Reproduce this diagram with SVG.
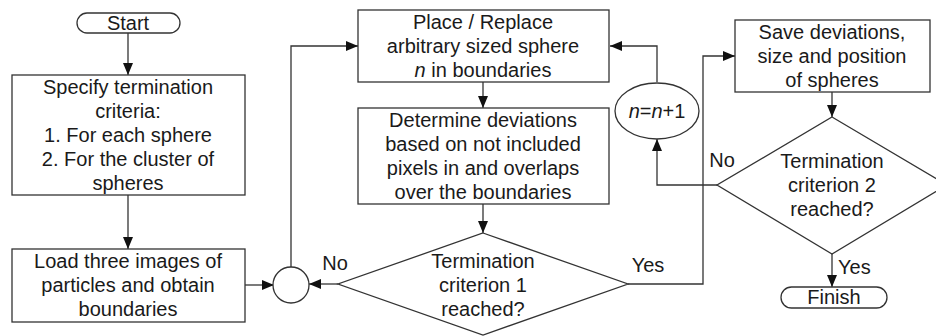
<svg xmlns="http://www.w3.org/2000/svg" width="936" height="336" viewBox="0 0 936 336">
<style>
.s{fill:#fff;stroke:#333;stroke-width:1.3}
.c{fill:none;stroke:#333;stroke-width:1.3}
text{font-family:"Liberation Sans",Arial,sans-serif;font-size:20px;fill:#1a1a1a;text-anchor:middle}
.l{text-anchor:start}
</style>
<defs>
<marker id="a" viewBox="0 0 12 10" refX="12" refY="5" markerWidth="12" markerHeight="10" markerUnits="userSpaceOnUse" orient="auto">
<path d="M0,0L12,5L0,10z" fill="#111"/>
</marker>
</defs>
<rect width="936" height="336" fill="#fff"/>
<g id="connectors" class="c" marker-end="url(#a)">
<path d="M128,33V75"/>
<path d="M128,195V249"/>
<path d="M245,285H274"/>
<path d="M291,267V46H358"/>
<path d="M483,82V108"/>
<path d="M483,204V233"/>
<path d="M338,284H309"/>
<path d="M628,284H703V56H735"/>
<path d="M832,92V117"/>
<path d="M717,185H657V139"/>
<path d="M657,82V46H610"/>
<path d="M832,254V287"/>
</g>
<g id="labels">
<text x="335" y="270">No</text>
<text x="648" y="272">Yes</text>
<text x="722" y="167">No</text>
<text class="l" x="838" y="274">Yes</text>
</g>
<g id="start">
<rect class="s" x="77" y="13" width="103" height="20" rx="10"/>
<text x="128" y="30">Start</text>
</g>
<g id="specify">
<rect class="s" x="12" y="75" width="233" height="120"/>
<text x="128" y="94">Specify termination</text>
<text x="128" y="118">criteria:</text>
<text x="128" y="142">1. For each sphere</text>
<text x="128" y="166">2. For the cluster of</text>
<text x="128" y="190">spheres</text>
</g>
<g id="load">
<rect class="s" x="12" y="249" width="233" height="73"/>
<text x="128" y="268">Load three images of</text>
<text x="128" y="292">particles and obtain</text>
<text x="128" y="316">boundaries</text>
</g>
<g id="merge">
<circle class="s" cx="291" cy="285" r="18"/>
</g>
<g id="place">
<rect class="s" x="358" y="10" width="251" height="72"/>
<text x="483" y="29">Place / Replace</text>
<text x="483" y="53">arbitrary sized sphere</text>
<text x="483" y="77"><tspan font-style="italic">n</tspan> in boundaries</text>
</g>
<g id="determine">
<rect class="s" x="358" y="108" width="251" height="96"/>
<text x="483" y="127">Determine deviations</text>
<text x="483" y="151">based on not included</text>
<text x="483" y="175">pixels in and overlaps</text>
<text x="483" y="199">over the boundaries</text>
</g>
<g id="criterion1">
<polygon class="s" points="483,233 628,284 483,335 338,284"/>
<text x="483" y="268">Termination</text>
<text x="483" y="292">criterion 1</text>
<text x="483" y="316">reached?</text>
</g>
<g id="increment">
<ellipse class="s" cx="657" cy="111" rx="42" ry="28"/>
<text x="657" y="118"><tspan font-style="italic">n</tspan>=<tspan font-style="italic">n</tspan>+1</text>
</g>
<g id="save">
<rect class="s" x="735" y="20" width="195" height="72"/>
<text x="832" y="39">Save deviations,</text>
<text x="832" y="63">size and position</text>
<text x="832" y="87">of spheres</text>
</g>
<g id="criterion2">
<polygon class="s" points="832,117 947,185 832,254 717,185"/>
<text x="832" y="168">Termination</text>
<text x="832" y="192">criterion 2</text>
<text x="832" y="216">reached?</text>
</g>
<g id="finish">
<rect class="s" x="781" y="287" width="106" height="21" rx="10.5"/>
<text x="834" y="304">Finish</text>
</g>
</svg>
